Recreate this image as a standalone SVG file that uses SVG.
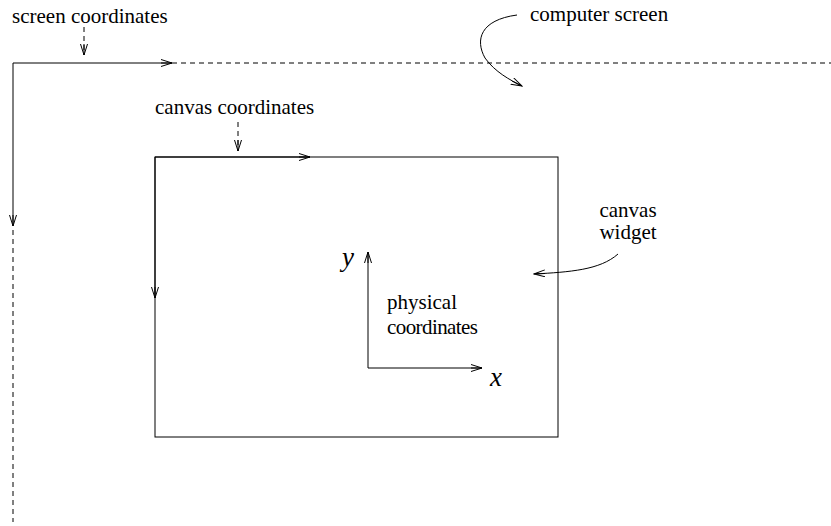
<svg xmlns="http://www.w3.org/2000/svg" width="831" height="526" viewBox="0 0 831 526">
<style>
text{font-family:"Liberation Serif","Times New Roman",serif;font-size:21px;fill:#000}
.ln{fill:none;stroke:#000;stroke-width:1}
.ds{fill:none;stroke:#000;stroke-width:1;stroke-dasharray:5,4}
.it{font-style:italic;font-size:27px}
</style>
<defs>
<marker id="ah" markerWidth="12" markerHeight="8" refX="11" refY="4" orient="auto" markerUnits="userSpaceOnUse">
<path d="M0,0.5 L11,4 L0,7.5 M11,4 L0,4" fill="none" stroke="#000" stroke-width="1"/>
</marker>
</defs>
<rect width="831" height="526" fill="#fff"/>
<g id="screen">
<text x="12" y="23">screen coordinates</text>
<text x="530" y="21">computer screen</text>
</g>
<g id="canvas">
<rect x="155" y="157" width="403" height="280" class="ln"/>
<text x="155" y="114">canvas coordinates</text>
<text x="628" y="217" text-anchor="middle">canvas</text>
<text x="628" y="239" text-anchor="middle">widget</text>
</g>
<g id="physical">
<text x="387" y="309">physical</text>
<text x="387" y="334" textLength="91">coordinates</text>
<text x="342" y="266" class="it">y</text>
<text x="490" y="386" class="it">x</text>
</g>
<g id="connectors">
<path d="M13,63 L172,63" class="ln" marker-end="url(#ah)"/>
<path d="M13,63 L13,226" class="ln" marker-end="url(#ah)"/>
<path d="M172,63 L831,63" class="ds"/>
<path d="M13,230 L13,522" class="ds"/>
<path d="M84,27 L84,55" class="ds" marker-end="url(#ah)"/>
<path d="M238,122 L238,151" class="ds" marker-end="url(#ah)"/>
<path d="M155,157 L310,157" class="ln" marker-end="url(#ah)"/>
<path d="M155,157 L155,298" class="ln" marker-end="url(#ah)"/>
<path d="M368,368 L368,252" class="ln" marker-end="url(#ah)"/>
<path d="M368,368 L482,368" class="ln" marker-end="url(#ah)"/>
<path d="M517,15 C480,20 475,40 485,58 C495,72 510,80 522,86" class="ln" marker-end="url(#ah)"/>
<path d="M618,254 C600,270 570,272 534,274" class="ln" marker-end="url(#ah)"/>
</g>
</svg>
